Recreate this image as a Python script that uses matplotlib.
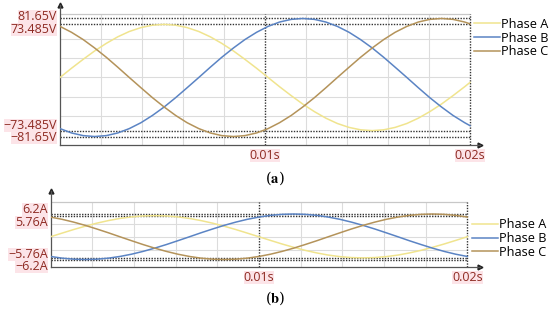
import matplotlib
matplotlib.use('Agg')
import matplotlib.pyplot as plt

plt.rcParams['font.family'] = ['Open Sans', 'DejaVu Sans']
plt.rcParams['mathtext.fontset'] = 'stix'

# ---------------- data: panel (a) voltages ----------------
time_a = [0, 0.00056, 0.00113, 0.00169, 0.00226, 0.00282, 0.00338, 0.00395, 0.00451,
          0.00508, 0.00564, 0.00620, 0.00677, 0.00733, 0.00789, 0.00846, 0.00902,
          0.00959, 0.01015, 0.01071, 0.01128, 0.01184, 0.01241, 0.01297, 0.01353,
          0.01410, 0.01466, 0.01523, 0.01579, 0.01635, 0.01692, 0.01748, 0.01804,
          0.01861, 0.01917, 0.01974, 0.02000]
volt_A = [0, 12.76, 25.13, 36.74, 47.24, 56.29, 63.64, 69.05, 72.37, 73.49, 72.37, 69.05,
          63.64, 56.29, 47.24, 36.74, 25.13, 12.76, 0, -12.76, -25.13, -36.74, -47.24,
          -56.29, -63.64, -69.05, -72.37, -73.49, -72.37, -69.05, -63.64, -56.29, -47.24,
          -36.74, -25.13, -12.76, -6.81]
volt_B = [-70.71, -76.73, -80.41, -81.65, -80.41, -76.73, -70.71, -62.55, -52.48, -40.83,
          -27.93, -14.18, 0, 14.18, 27.93, 40.83, 52.48, 62.55, 70.71, 76.73, 80.41, 81.65,
          80.41, 76.73, 70.71, 62.55, 52.48, 40.83, 27.93, 14.18, 0, -14.18, -27.93, -40.83,
          -52.48, -62.55, -66.63]
volt_C = [70.71, 62.55, 52.48, 40.83, 27.93, 14.18, 0, -14.18, -27.93, -40.83, -52.48,
          -62.55, -70.71, -76.73, -80.41, -81.65, -80.41, -76.73, -70.71, -62.55, -52.48,
          -40.83, -27.93, -14.18, 0, 14.18, 27.93, 40.83, 52.48, 62.55, 70.71, 76.73, 80.41,
          81.65, 80.41, 76.73, 74.20]
levels_a = [81.65, 73.485, -73.485, -81.65]
level_labels_a = ['81.65V', '73.485V', '\u221273.485V', '\u221281.65V']
label_pos_a = [84.5, 67.0, -67.0, -83.5]

# ---------------- data: panel (b) currents ----------------
time_b = [0, 0.00056, 0.00111, 0.00167, 0.00222, 0.00278, 0.00333, 0.00389, 0.00444, 0.005,
          0.00556, 0.00611, 0.00667, 0.00722, 0.00778, 0.00833, 0.00889, 0.00944, 0.01,
          0.01056, 0.01111, 0.01167, 0.01222, 0.01278, 0.01333, 0.01389, 0.01444, 0.015,
          0.01556, 0.01611, 0.01667, 0.01722, 0.01778, 0.01833, 0.01889, 0.01944, 0.02]
cur_A = [0, 1.0, 1.97, 2.88, 3.70, 4.41, 4.99, 5.41, 5.67, 5.76, 5.67, 5.41, 4.99, 4.41,
         3.70, 2.88, 1.97, 1.0, 0, -1.0, -1.97, -2.88, -3.70, -4.41, -4.99, -5.41, -5.67,
         -5.76, -5.67, -5.41, -4.99, -4.41, -3.70, -2.88, -1.97, -1.0, 0]
cur_B = [-5.37, -5.83, -6.11, -6.2, -6.11, -5.83, -5.37, -4.75, -3.99, -3.1, -2.12, -1.08,
         0, 1.08, 2.12, 3.1, 3.99, 4.75, 5.37, 5.83, 6.11, 6.2, 6.11, 5.83, 5.37, 4.75, 3.99,
         3.1, 2.12, 1.08, 0, -1.08, -2.12, -3.1, -3.99, -4.75, -5.37]
cur_C = [5.37, 4.75, 3.99, 3.1, 2.12, 1.08, 0, -1.08, -2.12, -3.1, -3.99, -4.75, -5.37,
         -5.83, -6.11, -6.2, -6.11, -5.83, -5.37, -4.75, -3.99, -3.1, -2.12, -1.08, 0, 1.08,
         2.12, 3.1, 3.99, 4.75, 5.37, 5.83, 6.11, 6.2, 6.11, 5.83, 5.37]
levels_b = [6.2, 5.76, -5.76, -6.2]
level_labels_b = ['6.2A', '5.76A', '\u22125.76A', '\u22126.2A']
label_pos_b = [7.4, 4.0, -4.7, -8.1]

series_names = ['Phase A', 'Phase B', 'Phase C']
time_ticks = [0.01, 0.02]
time_tick_labels = ['0.01s', '0.02s']
grid_times = [0.002, 0.004, 0.006, 0.008, 0.012, 0.014, 0.016, 0.018]

colors = ['#F0E48E', '#5B84C4', '#B4935A']
lab_color = '#8E2A22'
lab_bg = '#FCE4E8'

fig = plt.figure(figsize=(5.5, 3.09), dpi=100)
axA = fig.add_axes([60 / 550, 1 - 145 / 309, 420 / 550, 140 / 309])
axA.set_xlim(0, 420 / 20500)
axA.set_ylim(-93.4, 100.3)
axB = fig.add_axes([50.5 / 550, 1 - 267 / 309, 429.5 / 550, 76 / 309])
axB.set_xlim(0, 429.5 / 20840)
axB.set_ylim(-8.24, 12.47)


def style(ax, frame_top, hgrid, levels, labels, label_pos, series, t,
          leg_xy, caption, cap_y):
    ymin = ax.get_ylim()[0]
    # grid
    ax.hlines(hgrid, 0, 0.02, color='#DCDCDC', lw=0.8, zorder=1)
    ax.vlines(grid_times, ymin, frame_top, color='#DCDCDC', lw=0.8, zorder=1)
    ax.hlines([frame_top], 0, 0.02, color='#C8C8C8', lw=0.9, zorder=1)
    # reference lines
    ax.hlines(levels, 0, 0.02, color='#333333', lw=1.0, linestyle=(0, (1, 1)), zorder=2)
    ax.vlines(time_ticks, ymin, frame_top, color='#333333', lw=1.0,
              linestyle=(0, (1, 1)), zorder=2)
    # curves
    handles = []
    for vals, c, name in zip(series, colors, series_names):
        h, = ax.plot(t, vals, color=c, lw=1.1, label=name, zorder=3)
        handles.append(h)
    # spines / arrows
    for s in ['top', 'right']:
        ax.spines[s].set_visible(False)
    for s in ['left', 'bottom']:
        ax.spines[s].set_color('#555555')
        ax.spines[s].set_linewidth(0.9)
    ax.set_xticks([])
    ax.set_yticks([])
    ax.plot([0], [1], marker='^', color='#222222', ms=3.5, transform=ax.transAxes,
            clip_on=False)
    ax.plot([1], [0], marker='>', color='#222222', ms=3.5, transform=ax.transAxes,
            clip_on=False)
    # y labels
    for lab, yp in zip(labels, label_pos):
        ax.annotate(lab, xy=(0, yp), xycoords='data', xytext=(-2, 0),
                    textcoords='offset points', ha='right', va='center',
                    fontsize=9, color=lab_color, annotation_clip=False,
                    bbox=dict(boxstyle='square,pad=0.0', fc=lab_bg, ec='none'))
    # x labels
    for tt, lab in zip(time_ticks, time_tick_labels):
        ax.annotate(lab, xy=(tt, 0), xycoords=('data', 'axes fraction'),
                    xytext=(0, -3), textcoords='offset points', ha='center', va='top',
                    fontsize=9, color=lab_color, annotation_clip=False,
                    bbox=dict(boxstyle='square,pad=0.0', fc=lab_bg, ec='none'))
    ax.legend(handles=handles, loc='center left', bbox_to_anchor=leg_xy,
              bbox_transform=fig.transFigure, frameon=False, fontsize=9.2,
              handlelength=2.0, handletextpad=0.15, labelspacing=0.05, borderpad=0,
              borderaxespad=0)
    fig.text(0.5, cap_y, caption, ha='center', va='center', fontsize=10.5,
             family='DejaVu Serif')


style(axA, 87.9, [53, 26.5, 0, -26.5, -53], levels_a, level_labels_a, label_pos_a,
      [volt_A, volt_B, volt_C], time_a, (474 / 550, 1 - 38 / 309),
      r'($\mathbf{a}$)', 1 - 178 / 309)
style(axB, 9.39, [3.5, 0, -3.5], levels_b, level_labels_b, label_pos_b,
      [cur_A, cur_B, cur_C], time_b, (472 / 550, 1 - 238.5 / 309),
      r'($\mathbf{b}$)', 1 - 298 / 309)

fig.savefig('out.png', dpi=100)
